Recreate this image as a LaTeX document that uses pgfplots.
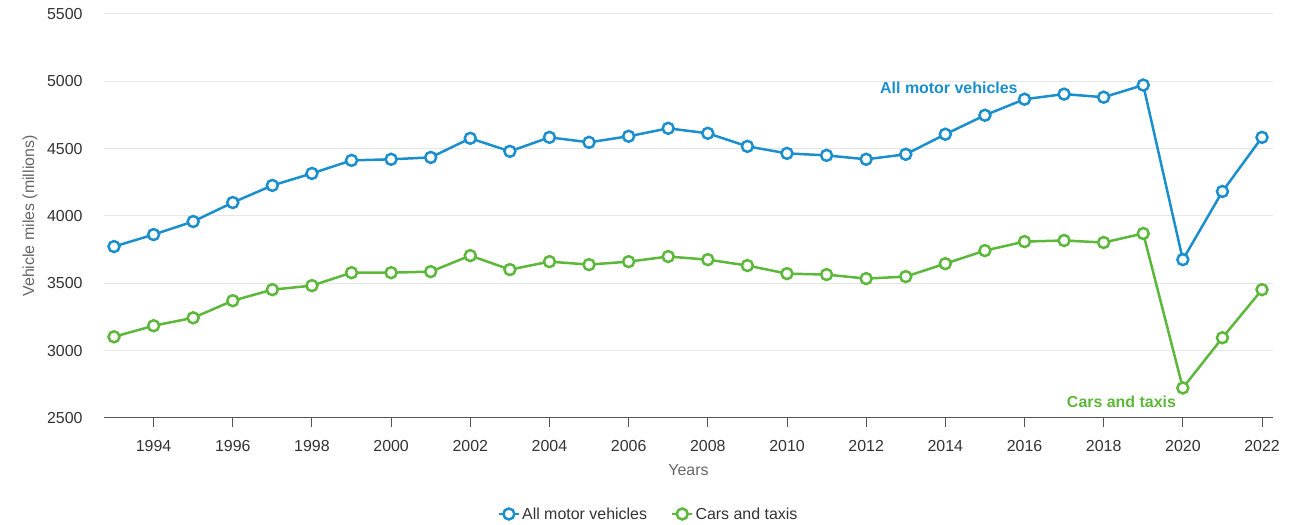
\documentclass[border=0pt]{standalone}
\usepackage{pgfplots}
\pgfplotsset{compat=1.18}
\usepackage{fontspec}
\setmainfont{Liberation Sans}
\definecolor{cblue}{RGB}{27,143,205}
\definecolor{cgreen}{RGB}{92,184,58}
\definecolor{gridc}{RGB}{230,230,230}
\definecolor{axisc}{RGB}{85,85,85}
\definecolor{txt}{RGB}{51,51,51}
\definecolor{lbl}{RGB}{102,102,102}
\begin{document}
\begin{tikzpicture}[x=1bp,y=1bp]
\useasboundingbox (-104,-107) rectangle (1190,418);
\begin{axis}[
  at={(0,0)}, anchor=south west,
  scale only axis, width=1169bp, height=404bp,
  xmin=1992.747, xmax=2022.278,
  ymin=2500, ymax=5500,
  ytick={2500,3000,...,5500},
  xtick={1994,1996,...,2022},
  /pgf/number format/assume math mode=true,
  xticklabel={\pgfmathprintnumber[1000 sep={}]{\tick}},
  yticklabel={\pgfmathprintnumber[1000 sep={}]{\tick}},
  ymajorgrids, grid style={gridc, line width=1pt},
  axis x line*=bottom,
  axis y line*=left,
  x axis line style={axisc, line width=1pt, -},
  y axis line style={draw=none},
  xtick style={axisc, line width=1pt},
  tick align=outside, major tick length=9bp,
  ytick style={draw=none},
  ticklabel style={font=\fontsize{16}{18}\selectfont, text=txt},
  yticklabel style={anchor=east, xshift=-9bp},
  xticklabel style={anchor=north, yshift=-10bp},
  xlabel={Years}, ylabel={Vehicle miles (millions)},
  label style={font=\fontsize{16}{18}\selectfont, text=lbl},
  xlabel style={at={(rel axis cs:0.5,0)}, anchor=center, yshift=-52bp},
  ylabel style={at={(rel axis cs:0,0.5)}, anchor=center, yshift=74bp},
  legend style={at={(rel axis cs:0.5,0)}, anchor=center, yshift=-96bp, xshift=-40bp,
    draw=none, fill=none, font=\fontsize{16}{18}\selectfont, text=txt,
    /tikz/every even column/.append style={column sep=22bp}},
  legend columns=2,
  legend image code/.code={\draw[#1] (0bp,0bp) -- (20bp,0bp); \draw[#1,mark repeat=1] plot coordinates {(10bp,0bp)};},
  every axis plot/.append style={line width=2.5bp, mark=*, mark size=5.5bp, mark options={fill=white, line width=2.5bp}},
  clip=false,
]
\addplot[cblue] coordinates {
(1993,3773)(1994,3862)(1995,3959)(1996,4100)(1997,4227)(1998,4316)(1999,4413)(2000,4421)(2001,4435)(2002,4577)
(2003,4480)(2004,4584)(2005,4547)(2006,4592)(2007,4651)(2008,4614)(2009,4517)(2010,4465)(2011,4450)(2012,4421)
(2013,4458)(2014,4607)(2015,4748)(2016,4867)(2017,4905)(2018,4882)(2019,4972)(2020,3676)(2021,4182)(2022,4584)};
\addlegendentry{All motor vehicles}
\addplot[cgreen] coordinates {
(1993,3103)(1994,3185)(1995,3244)(1996,3371)(1997,3453)(1998,3483)(1999,3579)(2000,3579)(2001,3587)(2002,3706)
(2003,3602)(2004,3661)(2005,3639)(2006,3661)(2007,3699)(2008,3676)(2009,3632)(2010,3572)(2011,3565)(2012,3535)
(2013,3550)(2014,3646)(2015,3743)(2016,3810)(2017,3818)(2018,3803)(2019,3870)(2020,2723)(2021,3096)(2022,3453)};
\addlegendentry{Cars and taxis}
\node[font=\bfseries\fontsize{16}{18}\selectfont, text=cblue] at (axis cs:2014.09,4949) {All motor vehicles};
\node[font=\bfseries\fontsize{16}{18}\selectfont, text=cgreen] at (axis cs:2018.45,2619) {Cars and taxis};
\end{axis}
\end{tikzpicture}
\end{document}
